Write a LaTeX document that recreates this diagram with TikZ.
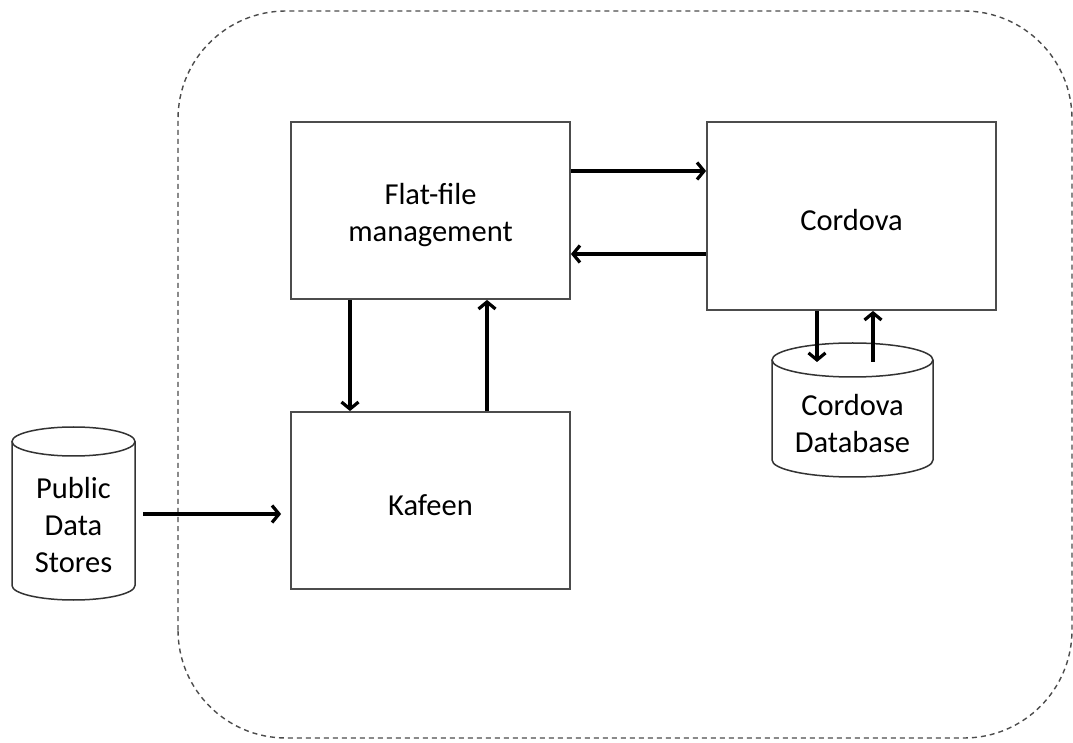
\documentclass[tikz,border=0pt]{standalone}
\usepackage{fontspec}
\setmainfont{Carlito}
\usetikzlibrary{arrows.meta}
\begin{document}
\begin{tikzpicture}[x=1pt,y=1pt,
  box/.style={draw=black!70, line width=1.8pt, fill=white, minimum width=279pt, minimum height=177pt, inner sep=0pt},
  cyl/.style={draw=black!80, line width=1.5pt, fill=white},
  lbl/.style={align=center, inner sep=0pt, font=\fontsize{30.5}{37}\selectfont},
  flow/.style={line width=3.2pt, -{Straight Barb[length=7pt,width=17pt]}},
  border/.style={draw=black!70, line width=1.4pt, dash pattern=on 5pt off 4pt, rounded corners=108pt}
]
\useasboundingbox (0,0) rectangle (1073,742);
% outer dashed region
\draw[border] (178,4) rectangle (1072,731);

% boxes
\node[box] (flat) at (430.5,531.5) {};
\node[lbl] (flattext) at ([yshift=-5pt]flat.center) {Flat-file\\management};
\node[box, minimum width=289pt, minimum height=188pt] (cordova) at (851.5,526) {};
\node[lbl] (cordovatext) at ([yshift=-4pt]cordova.center) {Cordova};
\node[box] (kafeen) at (430.5,241.5) {};
\node[lbl] (kafeentext) at ([yshift=-5pt]kafeen.center) {Kafeen};

% Public Data Stores cylinder
\draw[cyl] (12,300.5) -- (12,156.5) arc (180:360:61.5 and 14.5) -- (135,300.5);
\draw[cyl] (73.5,300.5) ellipse (61.5 and 14.5);
\node[lbl] (pds) at (73.5,217) {Public\\Data\\Stores};
\coordinate (pdsout) at (143,228);

% Cordova Database cylinder
\draw[cyl] (772,382) -- (772,282) arc (180:360:80.5 and 17) -- (933,382);
\draw[cyl] (852.5,382) ellipse (80.5 and 17);
\node[lbl] (cdb) at (852.5,318) {Cordova\\Database};
\coordinate (cdbin) at (817,380);
\coordinate (cdbout) at (873,380);

% connectors
\draw[flow] (flat.east |- 0,571) -- (cordova.west |- 0,571);
\draw[flow] (cordova.west |- 0,488) -- (flat.east |- 0,488);
\draw[flow] (flat.south -| 350,0) -- (kafeen.north -| 350,0);
\draw[flow] (kafeen.north -| 487,0) -- (flat.south -| 487,0);
\draw[flow, shorten >=9pt] (pdsout) -- (kafeen.west |- pdsout);
\draw[flow] (cordova.south -| cdbin) -- (cdbin);
\draw[flow] (cdbout) -- (cordova.south -| cdbout);
\end{tikzpicture}
\end{document}
